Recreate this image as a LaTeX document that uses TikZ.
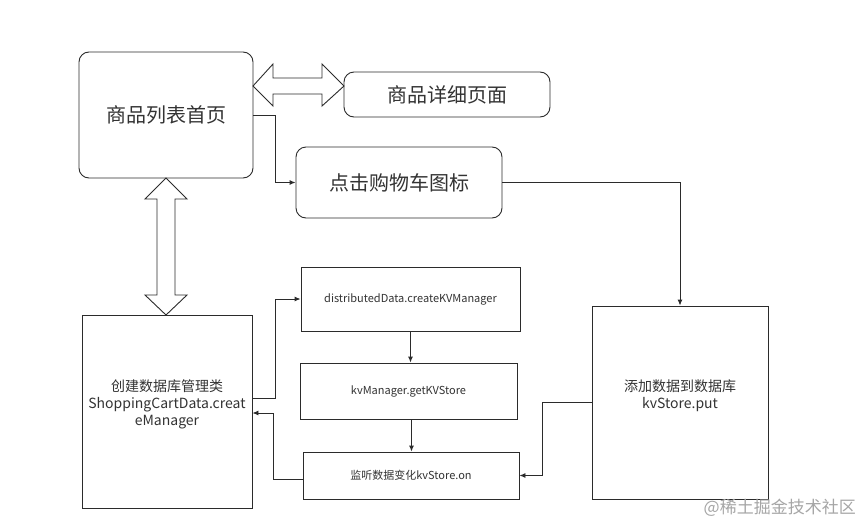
\documentclass[tikz,border=0pt]{standalone}
\usepackage{fontspec}
\setmainfont{Noto Sans CJK SC}
\usetikzlibrary{arrows.meta,calc}
\definecolor{ln}{HTML}{2B2B2B}
\definecolor{tx}{HTML}{333333}
\tikzset{
  x=1pt,y=-1pt,
  box/.style={draw=ln,line width=0.9pt,inner sep=0pt,text=tx,align=center},
  rbox/.style={box,rounded corners=10pt},
  big/.style={font=\fontsize{20}{24}\selectfont},
  mid/.style={font=\fontsize{14}{17}\selectfont},
  small/.style={font=\fontsize{11}{13}\selectfont},
  arr/.style={draw=ln,line width=0.9pt,-{Latex[length=6pt,width=5pt]}},
  fat/.style={draw=ln,line width=0.9pt,fill=white},
}
\begin{document}
\begin{tikzpicture}
\useasboundingbox[fill=white] (0,0) rectangle (862,525);
% nodes
\node[rbox,big,minimum width=174pt,minimum height=126pt] (A) at (166,115) {商品列表首页};
\node[rbox,big,minimum width=206pt,minimum height=45pt] (B) at (447,94.5) {商品详细页面};
\node[rbox,big,minimum width=206pt,minimum height=71pt] (C) at (399,182.5) {点击购物车图标};
\node[box,minimum width=170pt,minimum height=193pt,
  label={[mid,text=tx,align=center,yshift=7pt]center:创建数据库管理类\\ShoppingCartData.creat\\eManager}] (D) at (167,411.5) {};
\node[box,small,minimum width=219pt,minimum height=64pt] (E) at (410.5,299) {distributedData.createKVManager};
\node[box,small,minimum width=217pt,minimum height=56pt] (F) at (408.5,391) {kvManager.getKVStore};
\node[box,small,minimum width=216pt,minimum height=47pt] (G) at (411,475.5) {监听数据变化kvStore.on};
\node[box,minimum width=176pt,minimum height=193pt,
  label={[mid,text=tx,align=center,yshift=7pt]center:添加数据到数据库\\kvStore.put}] (H) at (680,402.5) {};
% double arrows
\draw[fat] (253,86) -- (273,64) -- (273,78) -- (322,78) -- (322,64) -- (344,86)
  -- (322,106) -- (322,94) -- (273,94) -- (273,106) -- cycle;
\draw[fat] (166,178) -- (145,199) -- (157,199) -- (157,295) -- (145,295) -- (166,315)
  -- (187,295) -- (175,295) -- (175,199) -- (187,199) -- cycle;
% helper coordinates
\coordinate (fg) at ($(F.south)+(3,0)$);
\coordinate (gl) at ($(G.west)+(0,3.5)$);
\coordinate (dout) at ($(D.east)+(0,-13.5)$);
\coordinate (din) at ($(D.east)+(0,1.5)$);
% connectors
\draw[arr] (A.east) -- ++(22,0) |- (C.west);
\draw[arr] (C.east) -| (H.north);
\draw[arr] (dout) -- ++(23,0) |- (E.west);
\draw[arr] (E.south) -- (E.south |- F.north);
\draw[arr] (fg) -- (fg |- G.north);
\draw[arr] (gl) -- ++(-29,0) |- (din);
\draw[arr] (H.west) -- ++(-49,0) |- (G.east);
% watermark
\node[anchor=east,text=black!35,font=\fontsize{17}{20}\selectfont,inner sep=0pt] (W) at (856,508) {@稀土掘金技术社区};
\end{tikzpicture}
\end{document}
